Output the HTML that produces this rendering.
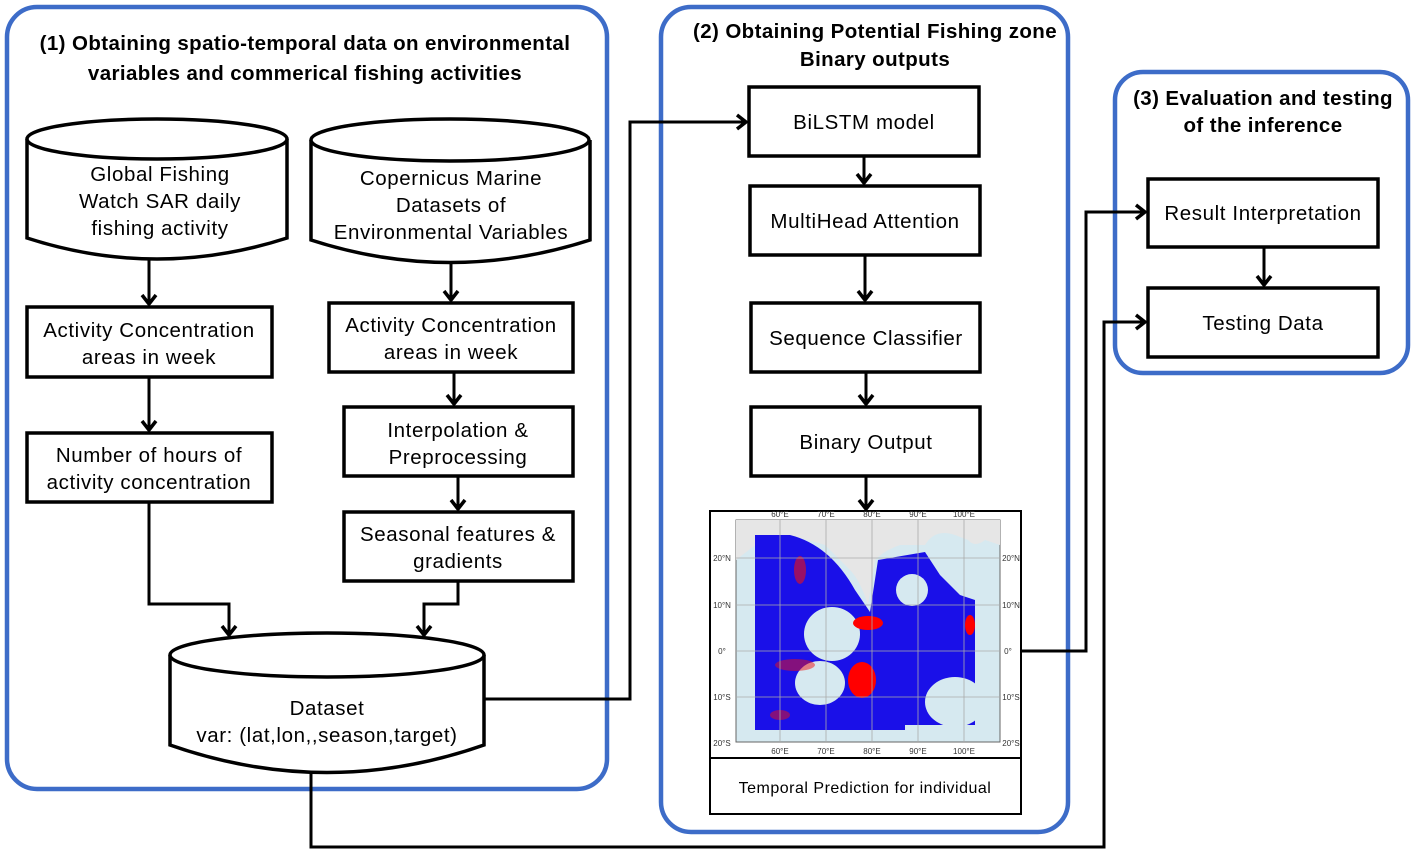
<!DOCTYPE html>
<html><head><meta charset="utf-8"><style>
html,body{margin:0;padding:0;background:#fff;}
svg{display:block;}
text{font-family:"Liberation Sans",sans-serif;fill:#000;}
.t{font-size:20.5px;letter-spacing:0.6px;text-anchor:middle;}
.h{font-size:20.5px;letter-spacing:0.4px;font-weight:bold;text-anchor:middle;}
.p{fill:none;stroke:#3d6cc8;stroke-width:4.5;}
.b{fill:#fff;stroke:#000;stroke-width:3.5;}
.l{fill:none;stroke:#000;stroke-width:3;}
.a{fill:none;stroke:#000;stroke-width:3.5;}
.m{font-size:8px;fill:#333;text-anchor:middle;}
</style></head><body>
<svg width="1412" height="851" viewBox="0 0 1412 851" xmlns="http://www.w3.org/2000/svg">
<rect class="p" x="7" y="7" width="600" height="782" rx="30"/>
<rect class="p" x="661" y="7" width="407" height="825" rx="30"/>
<rect class="p" x="1115" y="72" width="293" height="301" rx="28"/>
<text class="h" x="305" y="50">(1) Obtaining spatio-temporal data on environmental</text>
<text class="h" x="305" y="80">variables and commerical fishing activities</text>
<text class="h" x="875" y="38">(2) Obtaining Potential Fishing zone</text>
<text class="h" x="875" y="66">Binary outputs</text>
<text class="h" x="1263" y="105">(3) Evaluation and testing</text>
<text class="h" x="1263" y="132">of the inference</text>

<path class="l" d="M149 258V303"/><path class="a" d="M142 295l7 9 7-9"/>
<path class="l" d="M149 377V429"/><path class="a" d="M142 421l7 9 7-9"/>
<path class="l" d="M149 502V604H229V634"/><path class="a" d="M222 626l7 9 7-9"/>
<path class="l" d="M451 262V299"/><path class="a" d="M444 291l7 9 7-9"/>
<path class="l" d="M454 372V403"/><path class="a" d="M447 395l7 9 7-9"/>
<path class="l" d="M458 476V508"/><path class="a" d="M451 500l7 9 7-9"/>
<path class="l" d="M458 581V604H424V634"/><path class="a" d="M417 626l7 9 7-9"/>
<path class="l" d="M484 699H630V122H745"/><path class="a" d="M737 115l9 7-9 7"/>
<path class="l" d="M864 156V182"/><path class="a" d="M857 174l7 9 7-9"/>
<path class="l" d="M865 255V299"/><path class="a" d="M858 291l7 9 7-9"/>
<path class="l" d="M866 372V403"/><path class="a" d="M859 395l7 9 7-9"/>
<path class="l" d="M866 476V508"/><path class="a" d="M859 500l7 9 7-9"/>
<path class="l" d="M1021 651H1086V212H1144"/><path class="a" d="M1136 205l9 7-9 7"/>
<path class="l" d="M311 772V847H1104V322H1144"/><path class="a" d="M1136 315l9 7-9 7"/>
<path class="l" d="M1264 247V284"/><path class="a" d="M1257 276l7 9 7-9"/>

<path class="b" d="M27 139V238Q157 280 287 238V139"/>
<ellipse class="b" cx="157" cy="139" rx="130" ry="20"/>
<text class="t" x="160" y="181">Global Fishing</text>
<text class="t" x="160" y="208">Watch SAR daily</text>
<text class="t" x="160" y="235">fishing activity</text>

<path class="b" d="M311 140V240Q450 285 590 240V140"/>
<ellipse class="b" cx="450" cy="140" rx="139" ry="21"/>
<text class="t" x="451" y="185">Copernicus Marine</text>
<text class="t" x="451" y="212">Datasets of</text>
<text class="t" x="451" y="239">Environmental Variables</text>

<path class="b" d="M170 655V745Q327 800 484 745V655"/>
<ellipse class="b" cx="327" cy="655" rx="157" ry="22"/>
<text class="t" x="327" y="715">Dataset</text>
<text class="t" x="327" y="742">var: (lat,lon,,season,target)</text>

<rect class="b" x="27" y="307" width="245" height="70"/>
<text class="t" x="149" y="337">Activity Concentration</text>
<text class="t" x="149" y="364">areas in week</text>
<rect class="b" x="27" y="433" width="245" height="69"/>
<text class="t" x="149" y="462">Number of hours of</text>
<text class="t" x="149" y="489">activity concentration</text>
<rect class="b" x="329" y="303" width="244" height="69"/>
<text class="t" x="451" y="332">Activity Concentration</text>
<text class="t" x="451" y="359">areas in week</text>
<rect class="b" x="344" y="407" width="229" height="69"/>
<text class="t" x="458" y="437">Interpolation &amp;</text>
<text class="t" x="458" y="464">Preprocessing</text>
<rect class="b" x="344" y="512" width="229" height="69"/>
<text class="t" x="458" y="541">Seasonal features &amp;</text>
<text class="t" x="458" y="568">gradients</text>

<rect class="b" x="749" y="87" width="230" height="69"/>
<text class="t" x="864" y="129">BiLSTM model</text>
<rect class="b" x="750" y="186" width="230" height="69"/>
<text class="t" x="865" y="228">MultiHead Attention</text>
<rect class="b" x="751" y="303" width="229" height="69"/>
<text class="t" x="866" y="345">Sequence Classifier</text>
<rect class="b" x="751" y="407" width="229" height="69"/>
<text class="t" x="866" y="449">Binary Output</text>

<rect class="b" x="1148" y="179" width="230" height="68"/>
<text class="t" x="1263" y="220">Result Interpretation</text>
<rect class="b" x="1148" y="288" width="230" height="69"/>
<text class="t" x="1263" y="330">Testing Data</text>

<rect x="710" y="511" width="311" height="303" fill="#fff" stroke="#000" stroke-width="2"/>
<line x1="710" y1="758" x2="1021" y2="758" stroke="#000" stroke-width="2"/>
<text x="865" y="793" style="font-size:16px;letter-spacing:0.5px;text-anchor:middle">Temporal Prediction for individual</text>
<rect x="736" y="520" width="264" height="222" fill="#d6e9f0" stroke="#666" stroke-width="1"/>
<path d="M736 520H1000V545L985 540Q975 548 968 540L955 535Q935 528 925 545L900 545Q885 550 875 560L868 605Q860 580 850 570Q835 555 825 545L790 535L770 535Q755 545 736 560Z" fill="#e6e6e6"/>
<path d="M755 535H790Q830 545 855 590L870 612L878 560L925 552L940 575L960 595L975 600V725H905V730H755Z" fill="#1a10e8"/>
<ellipse cx="832" cy="634" rx="28" ry="27" fill="#d6e9f0"/>
<ellipse cx="820" cy="683" rx="25" ry="22" fill="#d6e9f0"/>
<ellipse cx="955" cy="702" rx="30" ry="25" fill="#d6e9f0"/>
<ellipse cx="912" cy="590" rx="16" ry="16" fill="#d6e9f0"/>
<ellipse cx="862" cy="680" rx="14" ry="18" fill="#f00"/>
<ellipse cx="868" cy="623" rx="15" ry="7" fill="#f00"/>
<ellipse cx="970" cy="625" rx="5" ry="10" fill="#f00"/>
<ellipse cx="800" cy="570" rx="6" ry="14" fill="#e11" opacity=".6"/>
<ellipse cx="795" cy="665" rx="20" ry="6" fill="#e11" opacity=".5"/>
<ellipse cx="780" cy="715" rx="10" ry="5" fill="#e11" opacity=".5"/>
<g stroke="#aaa" stroke-width=".8">
<line x1="780" y1="520" x2="780" y2="742"/><line x1="826" y1="520" x2="826" y2="742"/><line x1="872" y1="520" x2="872" y2="742"/><line x1="918" y1="520" x2="918" y2="742"/><line x1="964" y1="520" x2="964" y2="742"/>
<line x1="736" y1="558" x2="1000" y2="558"/><line x1="736" y1="605" x2="1000" y2="605"/><line x1="736" y1="651" x2="1000" y2="651"/><line x1="736" y1="697" x2="1000" y2="697"/>
</g>
<text class="m" x="780" y="517">60°E</text><text class="m" x="826" y="517">70°E</text><text class="m" x="872" y="517">80°E</text><text class="m" x="918" y="517">90°E</text><text class="m" x="964" y="517">100°E</text>
<text class="m" x="780" y="754">60°E</text><text class="m" x="826" y="754">70°E</text><text class="m" x="872" y="754">80°E</text><text class="m" x="918" y="754">90°E</text><text class="m" x="964" y="754">100°E</text>
<text class="m" x="722" y="561">20°N</text><text class="m" x="722" y="608">10°N</text><text class="m" x="722" y="654">0°</text><text class="m" x="722" y="700">10°S</text><text class="m" x="722" y="746">20°S</text>
<text class="m" x="1011" y="561">20°N</text><text class="m" x="1011" y="608">10°N</text><text class="m" x="1008" y="654">0°</text><text class="m" x="1011" y="700">10°S</text><text class="m" x="1011" y="746">20°S</text>
</svg>
</body></html>
